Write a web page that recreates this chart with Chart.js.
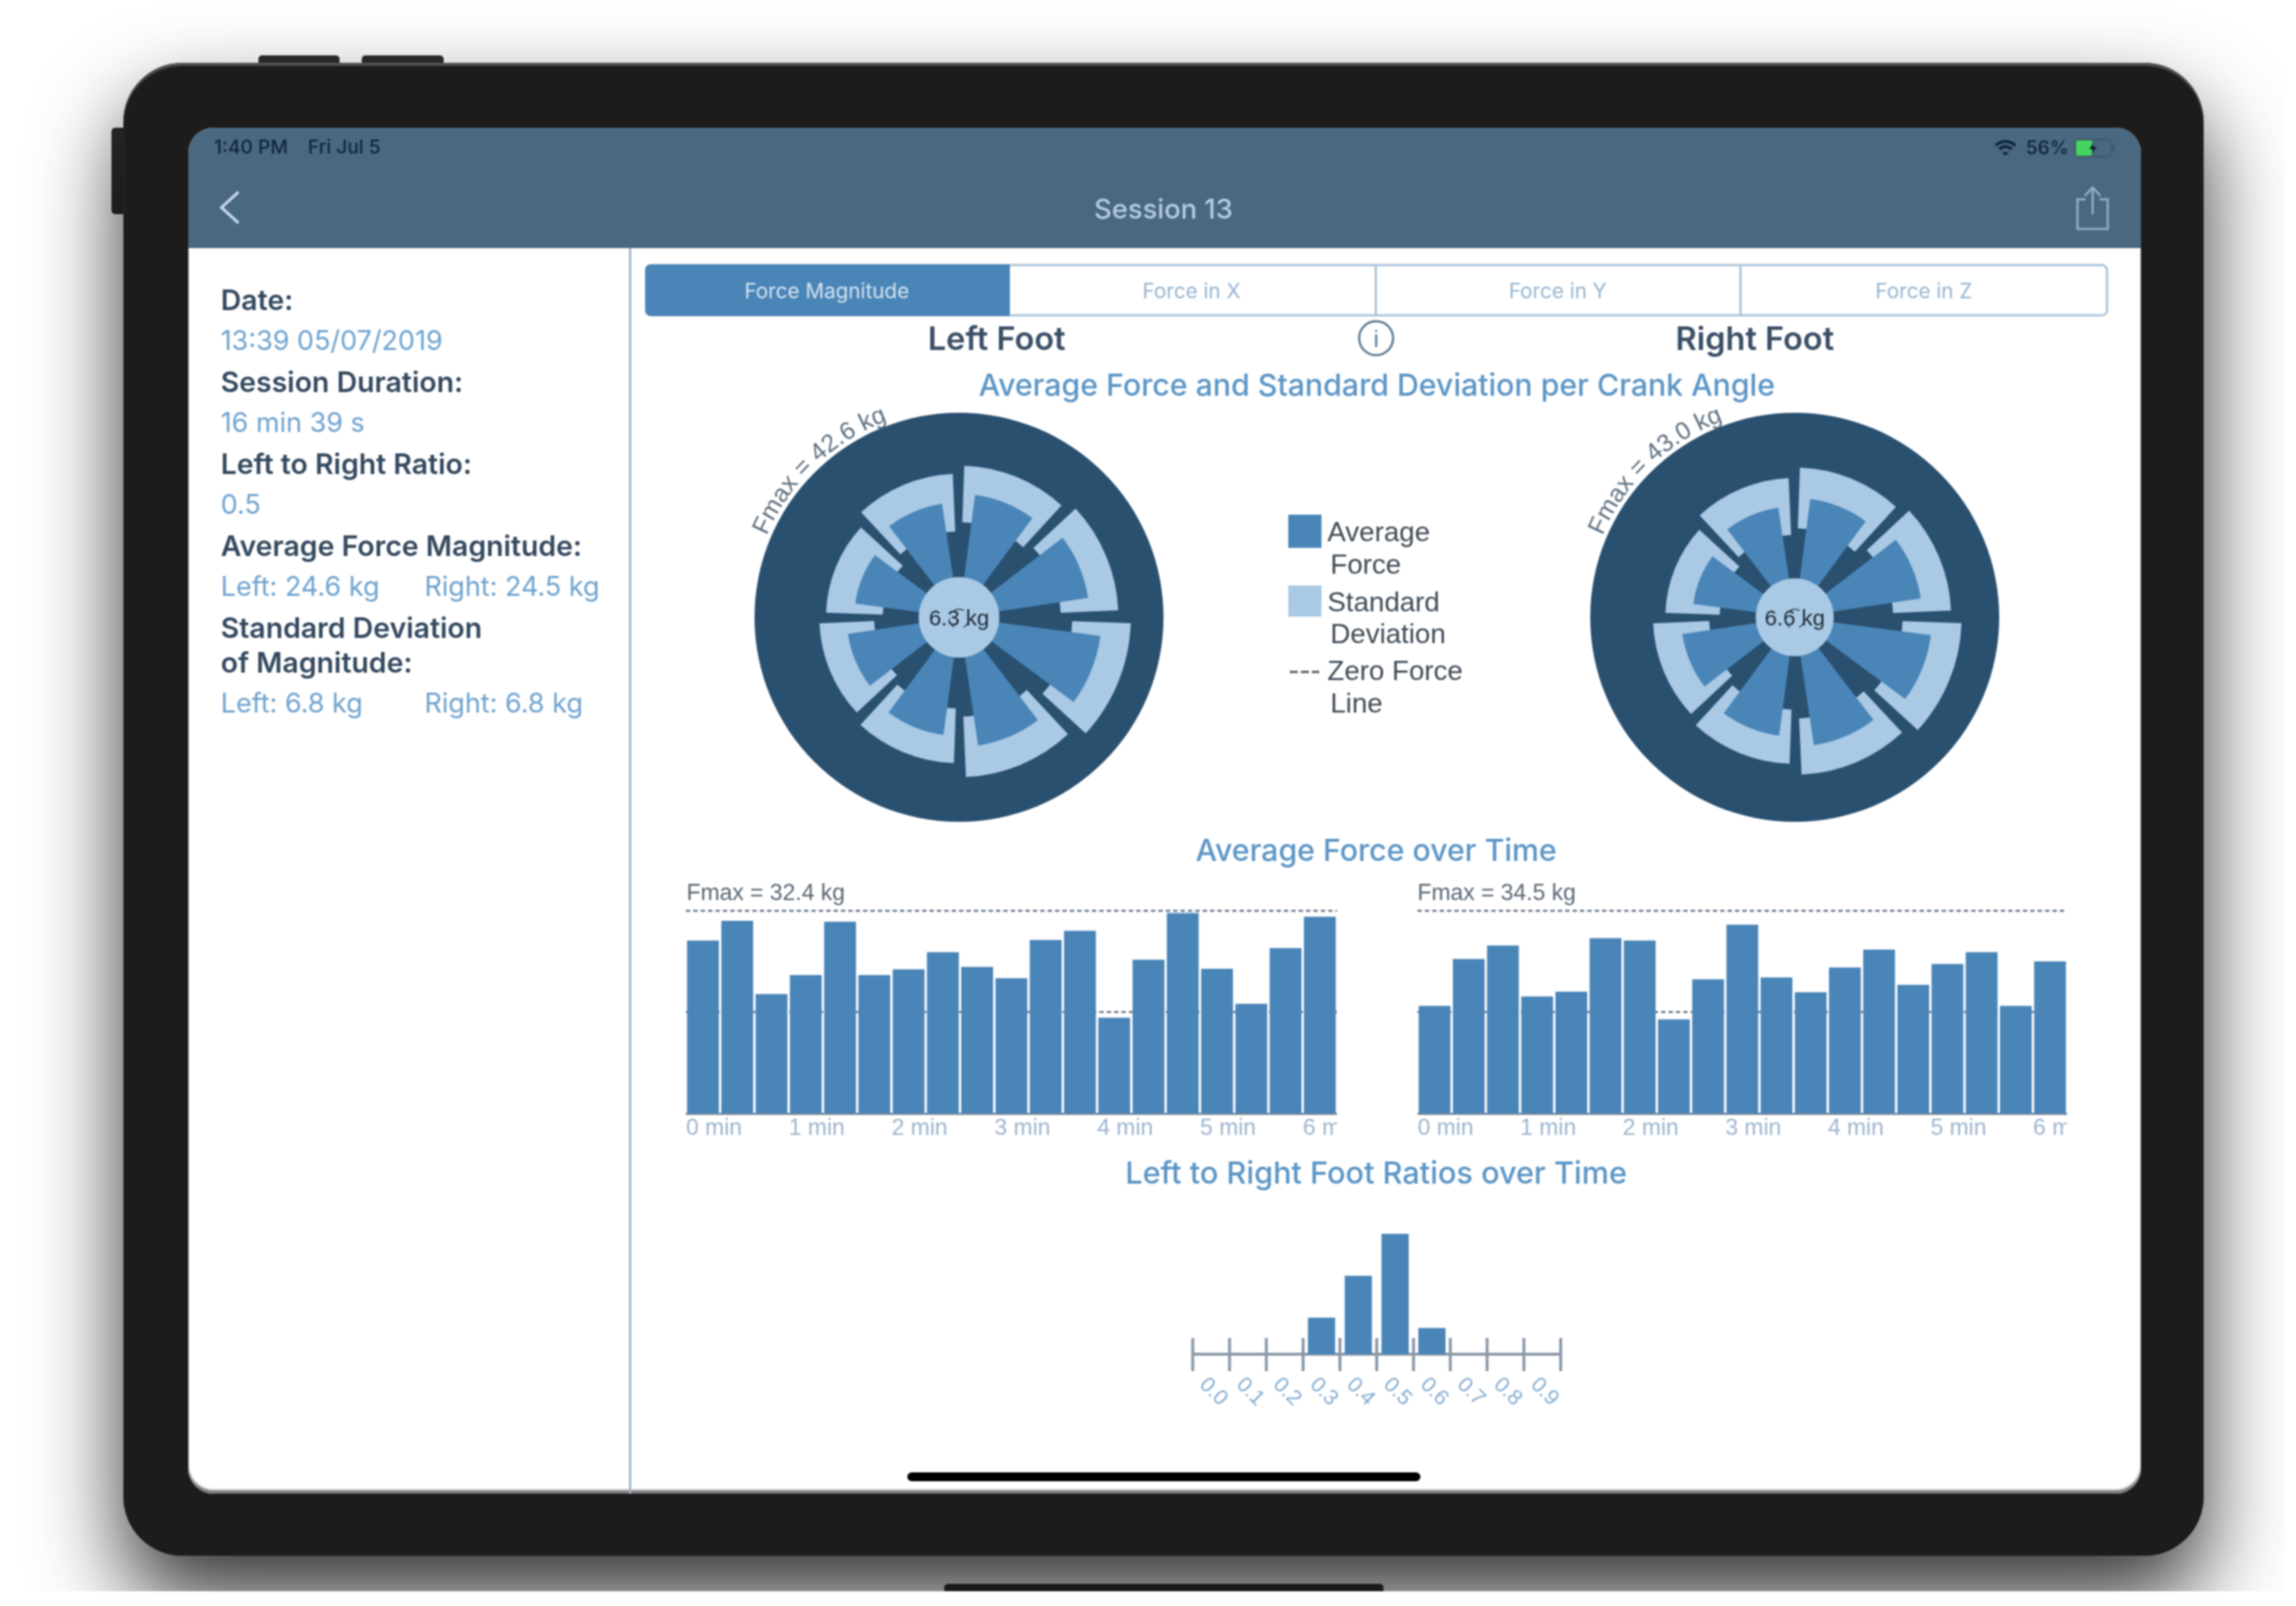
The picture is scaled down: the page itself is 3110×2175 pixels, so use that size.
<!DOCTYPE html>
<html>
<head>
<meta charset="utf-8">
<title>Session 13</title>
<script src="https://cdn.jsdelivr.net/npm/chart.js@4"></script>
<style>
    html, body { margin: 0; padding: 0; background: #fff; }
    #stage { position: relative; width: 3110px; height: 2175px; overflow: hidden; background: #fff; filter: blur(1px); }
    #clip { position: absolute; left: 0; top: 0; width: 3095px; height: 2155px; overflow: hidden; }
    #device { position: absolute; left: 167px; top: 85px; width: 2818px; height: 2022px; background: #1c1c1c; border-radius: 80px; box-shadow: 0 60px 120px rgba(0,0,0,.8), inset 0 4px 2px #555; }
    .knob { position: absolute; background: #2e2e2e; border-radius: 5px; }
    #screen { position: absolute; left: 255px; top: 173px; width: 2645px; height: 1850px; background: #fff; border-radius: 34px; overflow: hidden; box-shadow: inset 0 -5px 3px #777; }
    #header { position: absolute; left: 0; top: 0; width: 100%; height: 163px; background: #4a6880; }
    #divider { position: absolute; left: 597px; top: 163px; width: 3px; height: 1690px; background: #9fb1c4; }
    canvas { position: absolute; }
    #overlay { position: absolute; left: 0; top: 0; }
    #overlay text { font-family: Inter, "Liberation Sans", sans-serif; }
    #overlay .plain { font-family: "Liberation Sans", sans-serif; }
</style>
</head>
<body>
<div id="stage">
    <div id="clip">
        <div class="knob" style="left:350px;top:75px;width:110px;height:20px"></div>
        <div class="knob" style="left:490px;top:75px;width:111px;height:20px"></div>
        <div class="knob" style="left:151px;top:173px;width:24px;height:117px"></div>
        <div class="knob" style="left:1279px;top:2145px;width:595px;height:20px;background:#333"></div>
        <div id="device"></div>
        <div id="screen">
            <div id="header"></div>
            <div id="divider"></div>
        </div>
        <canvas id="leftWheel" style="left:1022px;top:559px"></canvas>
        <canvas id="rightWheel" style="left:2154px;top:559px"></canvas>
        <canvas id="leftBars" style="left:929px;top:1225px"></canvas>
        <canvas id="rightBars" style="left:1920px;top:1225px"></canvas>
        <canvas id="ratioChart" style="left:1590px;top:1660px"></canvas>
        <svg id="overlay" width="3110" height="2175" xmlns="http://www.w3.org/2000/svg"></svg>
    </div>
</div>
<script>
// kg per crank sector, clockwise from the top
const leftAverage = [25.7, 27.2, 29.7, 27.0, 24.7, 23.4, 21.8, 23.9];
const leftDeviation = [5.9, 6.0, 6.1, 6.3, 5.7, 5.7, 5.9, 6.0];
const rightAverage = [25.1, 26.8, 28.9, 27.2, 25.1, 23.9, 21.5, 23.3];
const rightDeviation = [6.4, 6.1, 6.2, 5.9, 5.7, 5.9, 5.7, 6.0];
const leftWheelMax = 42.6;
const rightWheelMax = 43.0;
const leftHub = 8.4;
const rightHub = 8.2;

// kg above the zero force line, one bar per 20 s
const timeLabels = ['0 min', '', '', '1 min', '', '', '2 min', '', '', '3 min', '', '', '4 min', '', '', '5 min', '', '', '6 min'];
const leftForce = [22.8, 29.1, 5.7, 11.8, 28.8, 11.8, 13.6, 19.1, 14.4, 10.8, 23.0, 25.9, -1.8, 16.7, 31.6, 13.8, 2.6, 20.4, 30.4];
const rightForce = [2.1, 18.0, 22.6, 5.3, 6.9, 25.1, 24.3, -2.5, 11.1, 29.7, 11.7, 6.7, 15.1, 21.2, 9.2, 16.3, 20.3, 2.1, 17.2];
const leftBarsMax = 32.4;
const rightBarsMax = 34.5;

const ratioBins = ['0.0', '0.1', '0.2', '0.3', '0.4', '0.5', '0.6', '0.7', '0.8', '0.9'];
const ratioShares = [0, 0, 0, 0.14, 0.30, 0.46, 0.10, 0, 0, 0];

const tabLabels = ['Force Magnitude', 'Force in X', 'Force in Y', 'Force in Z'];

const DARK = '#2a5070';
const MID = '#4a85b8';
const LIGHT = '#a9c9e4';
const TITLE = '#5b95c6';
const BOLD_TEXT = '#34495f';
const VALUE_TEXT = '#6fa3cf';

Chart.defaults.animation = false;
Chart.defaults.devicePixelRatio = 1;
Chart.defaults.responsive = false;
Chart.defaults.plugins.legend.display = false;
Chart.defaults.plugins.tooltip.enabled = false;

// degrees of lead gap, wedge, tail gap inside every 45 degree sector
const bandSlots = [2, 40.5, 2.5];
const coverSlots = [1.4, 41.7, 1.9];
const averageSlots = [7.5, 29, 8.5];

function sectorData(values) {
    return values.flatMap(v => [0, v, 0]);
}

function slotAngle(slots) {
    return ctx => slots[ctx.dataIndex % 3];
}

function renderWheel(id, average, deviation, max, hub) {
    const canvas = document.getElementById(id);
    canvas.width = 554;
    canvas.height = 554;
    new Chart(canvas, {
        type: 'polarArea',
        data: {
            labels: sectorData(average).map((v, i) => 'slot ' + i),
            datasets: [
                { label: 'Hub', data: [hub], angle: 360, backgroundColor: LIGHT },
                { label: 'Average Force', data: sectorData(average), angle: slotAngle(averageSlots), backgroundColor: MID },
                { label: 'Band inner', data: sectorData(average.map((v, i) => v - deviation[i])), angle: slotAngle(coverSlots), backgroundColor: DARK },
                { label: 'Standard Deviation', data: sectorData(average.map((v, i) => v + deviation[i])), angle: slotAngle(bandSlots), backgroundColor: LIGHT },
                { label: 'Fmax', data: [max], angle: 360, backgroundColor: DARK }
            ]
        },
        options: {
            elements: { arc: { borderWidth: 0 } },
            scales: { r: { display: false, min: 0, max: max } }
        }
    });
}

function renderBars(id, values, max) {
    const canvas = document.getElementById(id);
    canvas.width = id === 'leftBars' ? 882 : 880;
    canvas.height = 325;
    new Chart(canvas, {
        type: 'bar',
        data: {
            labels: timeLabels,
            datasets: [{
                label: 'Average Force',
                data: values,
                base: -max,
                backgroundColor: MID,
                barPercentage: 0.93,
                categoryPercentage: 1
            }]
        },
        options: {
            layout: { padding: { top: 8, right: -6 } },
            scales: {
                x: {
                    z: 1,
                    grid: { display: false },
                    border: { color: '#7d8b9a', width: 3 },
                    ticks: {
                        autoSkip: false,
                        maxRotation: 0,
                        align: 'start',
                        labelOffset: -23,
                        padding: -6,
                        color: '#9db5ce',
                        font: { family: 'Liberation Sans', size: 31 }
                    },
                    afterFit: scale => {
                        scale.paddingLeft = 0;
                        scale.paddingRight = 0;
                        scale.height = 42;
                    }
                },
                y: {
                    min: -max,
                    max: max,
                    ticks: { display: false },
                    afterBuildTicks: scale => { scale.ticks = [{ value: 0 }, { value: max }]; },
                    grid: { color: '#7b8794', lineWidth: 3, drawTicks: false },
                    border: { display: false, dash: [6, 4] }
                }
            }
        }
    });
}

// axis ticks that cross the line, and labels turned clockwise
const ratioAxisPlugin = {
    id: 'ratioAxis',
    afterDraw(chart) {
        const { ctx, chartArea } = chart;
        const x = chart.scales.x;
        ctx.save();
        ctx.strokeStyle = '#8b98a9';
        ctx.lineWidth = 4;
        for (let i = 0; i <= ratioBins.length; i++) {
            const px = x.getPixelForValue(i - 0.5);
            ctx.beginPath();
            ctx.moveTo(px, chartArea.bottom - 22);
            ctx.lineTo(px, chartArea.bottom + 23);
            ctx.stroke();
        }
        ctx.fillStyle = '#86add1';
        ctx.font = '29px "Liberation Sans"';
        ctx.textAlign = 'center';
        ctx.textBaseline = 'middle';
        ratioBins.forEach((label, i) => {
            ctx.save();
            ctx.translate(x.getPixelForValue(i) + 3, chartArea.bottom + 51);
            ctx.rotate(Math.PI / 4);
            ctx.fillText(label, 0, 0);
            ctx.restore();
        });
        ctx.restore();
    }
};

function renderRatio() {
    const canvas = document.getElementById('ratioChart');
    canvas.width = 550;
    canvas.height = 260;
    new Chart(canvas, {
        type: 'bar',
        data: {
            labels: ratioBins,
            datasets: [{ label: 'Ratio', data: ratioShares, backgroundColor: MID, barPercentage: 0.74, categoryPercentage: 1 }]
        },
        options: {
            layout: { padding: { left: 25.6, right: 26, top: 11, bottom: 86 } },
            scales: {
                x: {
                    z: 1,
                    grid: { display: false },
                    border: { color: '#8b98a9', width: 4 },
                    ticks: { display: false },
                    afterFit: scale => { scale.height = 0; }
                },
                y: { display: false, min: 0, max: 0.46 }
            }
        },
        plugins: [ratioAxisPlugin]
    });
}

const overlay = document.getElementById('overlay');

function svgEl(name, attrs, parent) {
    const el = document.createElementNS('http://www.w3.org/2000/svg', name);
    Object.keys(attrs).forEach(k => el.setAttribute(k, attrs[k]));
    (parent || overlay).appendChild(el);
    return el;
}

function addText(str, x, y, size, color, opts) {
    const o = opts || {};
    const el = svgEl('text', {
        x: x,
        y: y,
        'font-size': size,
        fill: color,
        'font-weight': o.weight || 400,
        'text-anchor': o.anchor || 'start',
        'dominant-baseline': 'central'
    });
    if (o.plain) el.setAttribute('class', 'plain');
    el.textContent = str;
}

function curvedLabel(id, str, cx, cy) {
    const r = 283;
    const a0 = -67 * Math.PI / 180;
    const a1 = -14 * Math.PI / 180;
    const p = a => (cx + r * Math.sin(a)).toFixed(1) + ' ' + (cy - r * Math.cos(a)).toFixed(1);
    svgEl('path', { id: id, d: 'M ' + p(a0) + ' A ' + r + ' ' + r + ' 0 0 1 ' + p(a1), fill: 'none' });
    const text = svgEl('text', { 'font-size': 33.500, fill: '#5f7081', class: 'plain' });
    const tp = svgEl('textPath', { href: '#' + id }, text);
    tp.textContent = str;
}

function hubLabel(str, cx, cy) {
    addText(str, cx, cy, 30, '#1f2a36', { anchor: 'middle', plain: true });
    svgEl('circle', { cx: cx, cy: cy + 2, r: 13, fill: 'none', stroke: '#2f4050', 'stroke-width': 1.500, 'stroke-dasharray': '14 13' });
}

function drawChrome() {
    // status bar
    addText('1:40 PM', 290, 198, 26, '#10263c', { weight: 500 });
    addText('Fri Jul 5', 417, 198, 26, '#10263c', { weight: 500 });
    addText('56%', 2744, 199, 26, '#10263c', { weight: 500 });
    svgEl('path', { d: 'M2703 197 Q2716 186 2730 197 M2708 202 Q2716 195 2725 202', fill: 'none', stroke: '#10263c', 'stroke-width': 4 });
    svgEl('path', { d: 'M2712 206 L2721 206 L2716.5 211 Z', fill: '#10263c' });
    svgEl('rect', { x: 2811, y: 189, width: 49, height: 23, rx: 5, fill: 'none', stroke: '#3f5569', 'stroke-width': 2 });
    svgEl('rect', { x: 2812, y: 190, width: 22, height: 21, rx: 3, fill: '#45d45f' });
    svgEl('path', { d: 'M2836 193 L2830 202 L2835 202 L2833 209 L2840 199 L2835 199 Z', fill: '#0c1a26' });
    svgEl('rect', { x: 2862, y: 196, width: 3, height: 9, fill: '#3f5569' });

    // nav bar
    svgEl('path', { d: 'M323 260 L300 281 L323 302', fill: 'none', stroke: '#c3d6e6', 'stroke-width': 4 });
    addText('Session 13', 1576, 282, 37, '#b5cce0', { anchor: 'middle', weight: 500 });
    svgEl('path', { d: 'M2825 270 L2814 270 L2814 310 L2855 310 L2855 270 L2844 270 M2834.500 290 L2834.500 255 M2824 265 L2834.500 254 L2845 265', fill: 'none', stroke: '#8fadc6', 'stroke-width': 3 });

    // segmented control
    svgEl('rect', { x: 875, y: 359, width: 1979, height: 68, rx: 7, fill: '#fff', stroke: '#a9c3da', 'stroke-width': 3 });
    svgEl('path', { d: 'M1368 358 L882 358 Q874 358 874 366 L874 420 Q874 428 882 428 L1368 428 Z', fill: MID });
    [1862, 2356].forEach(x => svgEl('rect', { x: x, y: 359, width: 3, height: 68, fill: '#a9c3da' }));
    [1120, 1614, 2110, 2606].forEach((x, i) => {
        addText(tabLabels[i], x, 394, 28, i === 0 ? '#d5e3ef' : '#97b5d1', { anchor: 'middle' });
    });

    // left pane
    addText('Date:', 299, 406, 38.5, BOLD_TEXT, { weight: 600 });
    addText('13:39 05/07/2019', 299, 461, 36.5, VALUE_TEXT);
    addText('Session Duration:', 299, 517, 38.5, BOLD_TEXT, { weight: 600 });
    addText('16 min 39 s', 299, 572, 36.5, VALUE_TEXT);
    addText('Left to Right Ratio:', 299, 628, 38.5, BOLD_TEXT, { weight: 600 });
    addText('0.5', 299, 683, 36.5, VALUE_TEXT);
    addText('Average Force Magnitude:', 299, 739, 38.5, BOLD_TEXT, { weight: 600 });
    addText('Left: 24.6 kg', 299, 794, 36.5, VALUE_TEXT);
    addText('Right: 24.5 kg', 575, 794, 36.5, VALUE_TEXT);
    addText('Standard Deviation', 299, 850, 38.5, BOLD_TEXT, { weight: 600 });
    addText('of Magnitude:', 299, 897, 38.5, BOLD_TEXT, { weight: 600 });
    addText('Left: 6.8 kg', 299, 952, 36.5, VALUE_TEXT);
    addText('Right: 6.8 kg', 575, 952, 36.5, VALUE_TEXT);

    // headings
    addText('Left Foot', 1350, 458, 44, '#3a4f66', { anchor: 'middle', weight: 600 });
    addText('Right Foot', 2377, 458, 44, '#3a4f66', { anchor: 'middle', weight: 600 });
    svgEl('circle', { cx: 1864, cy: 458, r: 23, fill: 'none', stroke: '#5c7a94', 'stroke-width': 3 });
    addText('i', 1864, 459, 32, '#5c7a94', { anchor: 'middle', plain: true });
    addText('Average Force and Standard Deviation per Crank Angle', 1865, 521, 41, TITLE, { anchor: 'middle', weight: 500 });
    addText('Average Force over Time', 1864, 1151, 41, TITLE, { anchor: 'middle', weight: 500 });
    addText('Left to Right Foot Ratios over Time', 1864, 1588, 41.500, TITLE, { anchor: 'middle', weight: 500 });

    // legend
    svgEl('rect', { x: 1745, y: 697, width: 45, height: 45, fill: MID });
    svgEl('rect', { x: 1745, y: 793, width: 45, height: 42, fill: LIGHT });
    svgEl('line', { x1: 1747, y1: 910, x2: 1787, y2: 910, stroke: '#555', 'stroke-width': 3, 'stroke-dasharray': '11 4' });
    const legendLines = [['Average', 1798, 720], ['Force', 1802, 764], ['Standard', 1798, 815], ['Deviation', 1802, 858], ['Zero Force', 1798, 908], ['Line', 1802, 952]];
    legendLines.forEach(l => addText(l[0], l[1], l[2], 37.500, '#404b57', { plain: true }));

    // wheel labels
    curvedLabel('leftArc', 'Fmax = 42.6 kg', 1299, 836);
    curvedLabel('rightArc', 'Fmax = 43.0 kg', 2431, 836);
    hubLabel('6.3 kg', 1299, 836);
    hubLabel('6.6 kg', 2431, 836);

    // bar chart labels
    addText('Fmax = 32.4 kg', 930, 1208, 31, '#5a6775', { plain: true });
    addText('Fmax = 34.5 kg', 1920, 1208, 31, '#5a6775', { plain: true });

    // home indicator
    svgEl('rect', { x: 1229, y: 1994, width: 695, height: 12, rx: 6, fill: '#000' });
}

renderWheel('leftWheel', leftAverage, leftDeviation, leftWheelMax, leftHub);
renderWheel('rightWheel', rightAverage, rightDeviation, rightWheelMax, rightHub);
renderBars('leftBars', leftForce, leftBarsMax);
renderBars('rightBars', rightForce, rightBarsMax);
renderRatio();
drawChrome();
</script>
</body>
</html>
